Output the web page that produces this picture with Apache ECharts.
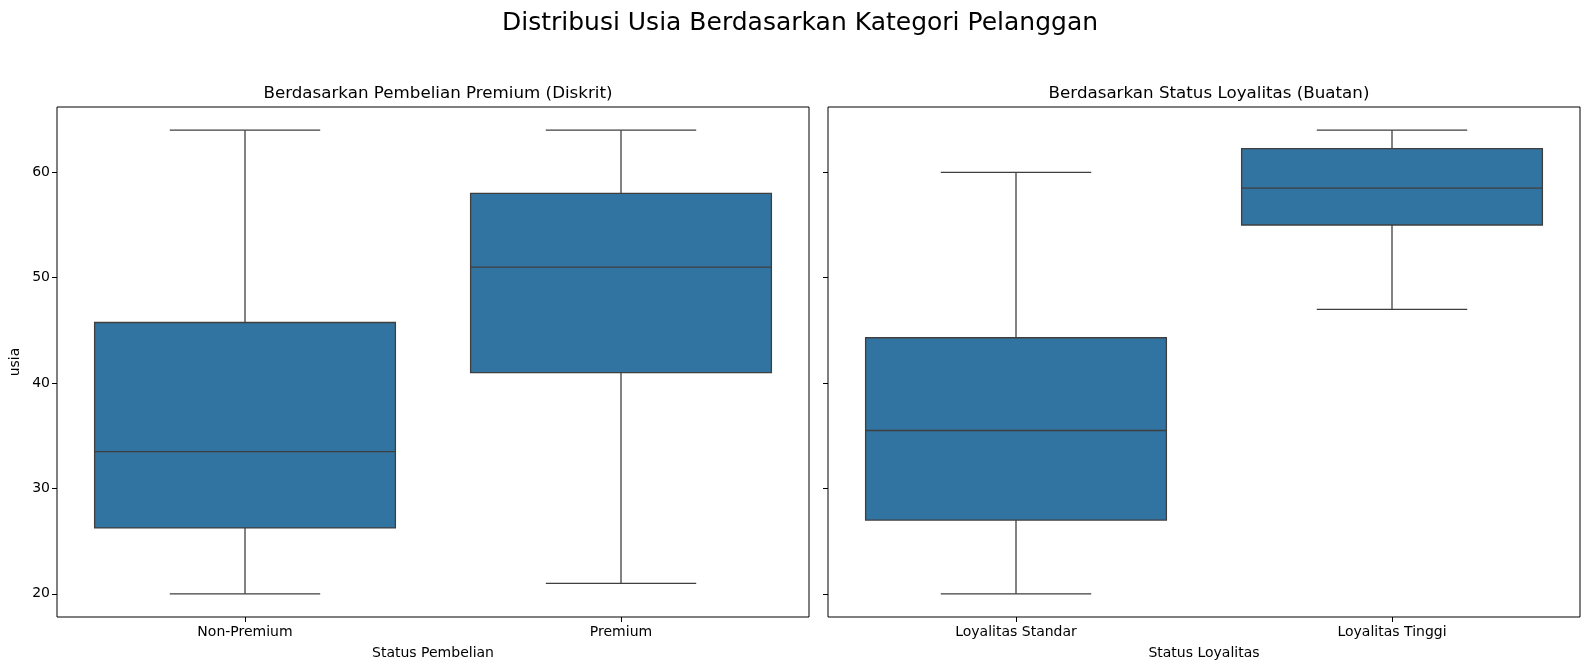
<!DOCTYPE html>
<html>
<head>
<meta charset="utf-8">
<title>Distribusi Usia Berdasarkan Kategori Pelanggan</title>
<script src="https://cdn.jsdelivr.net/npm/echarts@6/dist/echarts.min.js"></script>
<style>
  html, body { margin: 0; padding: 0; background: #fff; }
  #main { width: 1590px; height: 670px; }
</style>
</head>
<body>
<div id="main"></div>
<script>
// data: [min, Q1, median, Q3, max]
var kategoriPembelian = ["Non-Premium", "Premium"];
var boxPembelian = [
  [20, 26.25, 33.5, 45.75, 64],
  [21, 41, 51, 58, 64]
];
var kategoriLoyalitas = ["Loyalitas Standar", "Loyalitas Tinggi"];
var boxLoyalitas = [
  [20, 27, 35.5, 44.3, 60],
  [47, 55, 58.5, 62.25, 64]
];
var yTicks = [20, 30, 40, 50, 60];

var FONT = "DejaVu Sans";
var FILL = "#3274a1";
var LINE = "#3f3f3f";

// box drawn with the axes' own coordinates
function renderBox(params, api) {
  var idx = api.value(0);
  var band = api.size([1, 0])[0];
  var pMin = api.coord([idx, api.value(1)]);
  var pQ1 = api.coord([idx, api.value(2)]);
  var pMed = api.coord([idx, api.value(3)]);
  var pQ3 = api.coord([idx, api.value(4)]);
  var pMax = api.coord([idx, api.value(5)]);
  var cx = pMed[0];
  var bw = band * 0.8;
  var cw = band * 0.4;
  var lineStyle = { stroke: LINE, lineWidth: 1.3 };
  return {
    type: "group",
    children: [
      { type: "line", shape: { x1: cx, y1: pQ3[1], x2: cx, y2: pMax[1] }, style: lineStyle },
      { type: "line", shape: { x1: cx, y1: pQ1[1], x2: cx, y2: pMin[1] }, style: lineStyle },
      { type: "line", shape: { x1: cx - cw / 2, y1: pMax[1], x2: cx + cw / 2, y2: pMax[1] }, style: lineStyle },
      { type: "line", shape: { x1: cx - cw / 2, y1: pMin[1], x2: cx + cw / 2, y2: pMin[1] }, style: lineStyle },
      {
        type: "rect",
        shape: { x: cx - bw / 2, y: pQ3[1], width: bw, height: pQ1[1] - pQ3[1] },
        style: { fill: FILL, stroke: LINE, lineWidth: 1.3 }
      },
      { type: "line", shape: { x1: cx - bw / 2, y1: pMed[1], x2: cx + bw / 2, y2: pMed[1] }, style: lineStyle }
    ]
  };
}

function toRows(boxes) {
  var rows = [];
  for (var i = 0; i < boxes.length; i++) {
    rows.push([i].concat(boxes[i]));
  }
  return rows;
}

function yAxisFor(gridIndex, showLabels) {
  return {
    type: "value",
    gridIndex: gridIndex,
    min: 17.8,
    max: 66.2,
    name: showLabels ? "usia" : "",
    nameLocation: "middle",
    nameGap: 35,
    nameRotate: 90,
    nameTextStyle: { fontFamily: FONT, fontSize: 14, color: "#000" },
    axisLine: { show: false },
    axisTick: { show: true, length: 5, lineStyle: { color: "#000", width: 1 }, customValues: yTicks },
    axisLabel: { show: showLabels, customValues: yTicks, fontFamily: FONT, fontSize: 14, color: "#000", margin: 7 },
    splitLine: { show: false }
  };
}

function xAxisFor(gridIndex, cats, title) {
  return {
    type: "category",
    gridIndex: gridIndex,
    data: cats,
    boundaryGap: true,
    name: title,
    nameLocation: "middle",
    nameGap: 29,
    nameTextStyle: { fontFamily: FONT, fontSize: 14, color: "#000" },
    axisLine: { show: false },
    axisTick: { show: true, alignWithLabel: true, length: 5, lineStyle: { color: "#000", width: 1 } },
    axisLabel: { fontFamily: FONT, fontSize: 14, color: "#000", margin: 8 },
    splitLine: { show: false }
  };
}

var myChart = echarts.init(document.getElementById("main"), null, { renderer: "canvas" });

var option = {
  backgroundColor: "#fff",
  animation: false,
  title: [
    {
      text: "Distribusi Usia Berdasarkan Kategori Pelanggan",
      left: 795, top: 6, textAlign: "center",
      textStyle: { fontFamily: FONT, fontSize: 25, fontWeight: "normal", color: "#000" }
    },
    {
      text: "Berdasarkan Pembelian Premium (Diskrit)",
      left: 433, top: 80, textAlign: "center",
      textStyle: { fontFamily: FONT, fontSize: 16.7, fontWeight: "normal", color: "#000" }
    },
    {
      text: "Berdasarkan Status Loyalitas (Buatan)",
      left: 1204, top: 80, textAlign: "center",
      textStyle: { fontFamily: FONT, fontSize: 16.7, fontWeight: "normal", color: "#000" }
    }
  ],
  grid: [
    { left: 57, top: 107, width: 752, height: 510, show: true, borderColor: "#000", borderWidth: 1, backgroundColor: "transparent" },
    { left: 828, top: 107, width: 752, height: 510, show: true, borderColor: "#000", borderWidth: 1, backgroundColor: "transparent" }
  ],
  xAxis: [
    xAxisFor(0, kategoriPembelian, "Status Pembelian"),
    xAxisFor(1, kategoriLoyalitas, "Status Loyalitas")
  ],
  yAxis: [
    yAxisFor(0, true),
    yAxisFor(1, false)
  ],
  series: [
    {
      type: "custom",
      xAxisIndex: 0, yAxisIndex: 0,
      renderItem: renderBox,
      encode: { x: 0, y: [1, 2, 3, 4, 5] },
      data: toRows(boxPembelian)
    },
    {
      type: "custom",
      xAxisIndex: 1, yAxisIndex: 1,
      renderItem: renderBox,
      encode: { x: 0, y: [1, 2, 3, 4, 5] },
      data: toRows(boxLoyalitas)
    }
  ]
};

myChart.setOption(option);
</script>
</body>
</html>
